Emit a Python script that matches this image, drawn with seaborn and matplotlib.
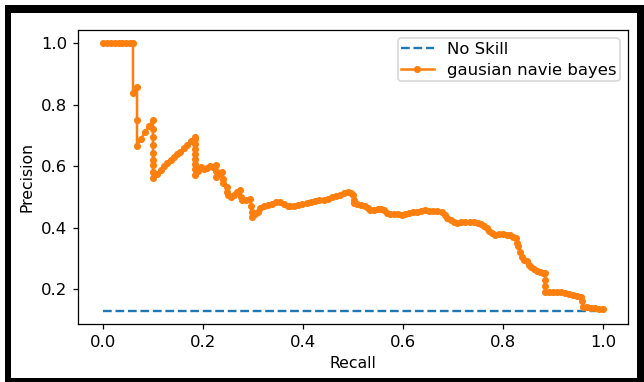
import matplotlib
matplotlib.use("Agg")
import matplotlib.pyplot as plt
from matplotlib.patches import Rectangle
import seaborn as sns

# Baseline: fraction of positives
no_skill_recall = [0.0, 1.0]
no_skill_precision = [0.130, 0.130]

# Precision-recall points of the Gaussian naive Bayes classifier
recall = [
    0.000, 0.008, 0.015, 0.023, 0.031, 0.038, 0.046, 0.053, 0.060, 0.060,
    0.068, 0.068, 0.068, 0.076, 0.084, 0.092, 0.100, 0.100, 0.100, 0.100,
    0.100, 0.100, 0.100, 0.100, 0.100, 0.108, 0.115, 0.122, 0.128, 0.135,
    0.141, 0.148, 0.154, 0.161, 0.168, 0.176, 0.184, 0.184, 0.184, 0.184,
    0.184, 0.184, 0.184, 0.184, 0.184, 0.190, 0.196, 0.202, 0.208, 0.214,
    0.220, 0.226, 0.226, 0.226, 0.232, 0.238, 0.240, 0.240, 0.248, 0.248,
    0.250, 0.256, 0.262, 0.268, 0.274, 0.276, 0.278, 0.286, 0.294, 0.296,
    0.298, 0.298, 0.304, 0.310, 0.314, 0.322, 0.330, 0.338, 0.346, 0.354,
    0.362, 0.370, 0.374, 0.382, 0.390, 0.398, 0.408, 0.416, 0.424, 0.432,
    0.441, 0.450, 0.458, 0.466, 0.474, 0.482, 0.490, 0.496, 0.500, 0.501,
    0.501, 0.508, 0.516, 0.524, 0.530, 0.534, 0.542, 0.550, 0.556, 0.561,
    0.567, 0.574, 0.582, 0.590, 0.598, 0.604, 0.612, 0.620, 0.628, 0.636,
    0.644, 0.652, 0.660, 0.668, 0.677, 0.684, 0.688, 0.696, 0.702, 0.707,
    0.715, 0.724, 0.734, 0.742, 0.750, 0.756, 0.762, 0.767, 0.772, 0.778,
    0.784, 0.792, 0.800, 0.808, 0.814, 0.820, 0.826, 0.828, 0.830, 0.834,
    0.838, 0.842, 0.848, 0.852, 0.856, 0.862, 0.868, 0.874, 0.880, 0.884,
    0.884, 0.884, 0.884, 0.892, 0.900, 0.908, 0.916, 0.924, 0.932, 0.940,
    0.948, 0.955, 0.957, 0.960, 0.968, 0.976, 0.984, 0.992, 1.000,
]
precision = [
    1.000, 1.000, 1.000, 1.000, 1.000, 1.000, 1.000, 1.000, 1.000, 0.840,
    0.857, 0.750, 0.667, 0.690, 0.710, 0.730, 0.750, 0.720, 0.696, 0.670,
    0.642, 0.620, 0.604, 0.580, 0.561, 0.575, 0.588, 0.600, 0.610, 0.620,
    0.631, 0.640, 0.647, 0.658, 0.669, 0.683, 0.696, 0.690, 0.672, 0.655,
    0.640, 0.623, 0.607, 0.590, 0.572, 0.585, 0.598, 0.590, 0.594, 0.600,
    0.596, 0.605, 0.585, 0.566, 0.575, 0.582, 0.560, 0.545, 0.534, 0.515,
    0.507, 0.501, 0.506, 0.515, 0.523, 0.500, 0.490, 0.490, 0.492, 0.470,
    0.450, 0.436, 0.444, 0.452, 0.465, 0.470, 0.475, 0.478, 0.482, 0.485,
    0.478, 0.472, 0.469, 0.472, 0.474, 0.477, 0.480, 0.483, 0.486, 0.489,
    0.490, 0.495, 0.500, 0.503, 0.507, 0.512, 0.516, 0.512, 0.505, 0.490,
    0.480, 0.478, 0.474, 0.470, 0.465, 0.458, 0.458, 0.460, 0.462, 0.456,
    0.447, 0.446, 0.444, 0.444, 0.442, 0.445, 0.448, 0.452, 0.452, 0.454,
    0.456, 0.455, 0.453, 0.454, 0.452, 0.440, 0.431, 0.425, 0.420, 0.415,
    0.417, 0.419, 0.420, 0.418, 0.416, 0.412, 0.405, 0.398, 0.390, 0.382,
    0.377, 0.378, 0.380, 0.377, 0.375, 0.371, 0.366, 0.350, 0.339, 0.320,
    0.306, 0.296, 0.290, 0.280, 0.273, 0.265, 0.260, 0.257, 0.254, 0.252,
    0.230, 0.210, 0.192, 0.192, 0.192, 0.191, 0.190, 0.188, 0.185, 0.181,
    0.178, 0.176, 0.160, 0.143, 0.141, 0.139, 0.138, 0.136, 0.134,
]

DPI = 113
plt.rcParams.update({
    "font.size": 10.5,
    "axes.labelsize": 10,
    "xtick.labelsize": 10.5,
    "ytick.labelsize": 10.5,
    "legend.fontsize": 10.5,
})

fig = plt.figure(figsize=(644 / DPI, 382 / DPI), dpi=DPI)
W, H = 644, 382

# Black frame around the figure (pixel measurements converted to figure fractions)
def px_rect(x0, y0, x1, y1, color):
    fig.patches.append(Rectangle((x0 / W, 1 - y1 / H), (x1 - x0) / W, (y1 - y0) / H,
                                 transform=fig.transFigure, facecolor=color,
                                 edgecolor="none", zorder=-10))

px_rect(5, 5, 644, 382, "black")
px_rect(11, 13, 637, 378, "white")

ax = fig.add_axes([78 / W, 1 - 324 / H, (628 - 78) / W, (324 - 30) / H])

sns.lineplot(x=no_skill_recall, y=no_skill_precision, ax=ax, color="#1f77b4",
             linestyle="--", label="No Skill")
sns.lineplot(x=recall, y=precision, ax=ax, color="#ff7f0e", marker=".",
             markersize=7, markeredgecolor="#ff7f0e", markeredgewidth=1,
             linewidth=1.6, sort=False, estimator=None,
             label="gausian navie bayes")

ax.set_xlabel("Recall")
ax.set_ylabel("Precision")
ax.legend(loc="upper right", borderpad=0.2, labelspacing=0.4,
          handlelength=2.0, handletextpad=0.8)

fig.savefig("out.png", dpi=DPI)
